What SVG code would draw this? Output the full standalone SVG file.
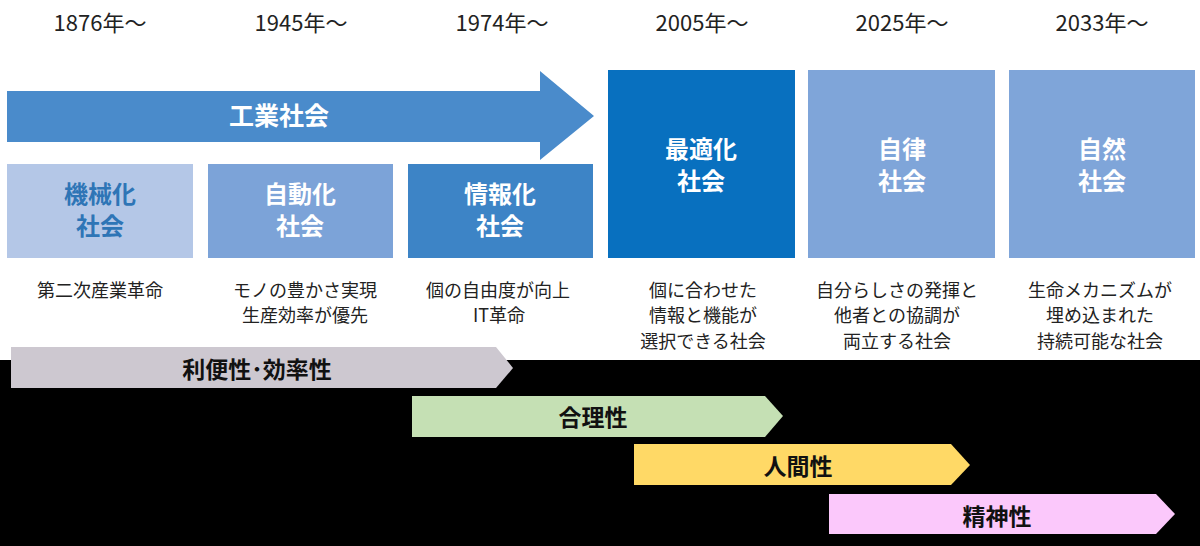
<svg xmlns="http://www.w3.org/2000/svg" width="1200" height="546" viewBox="0 0 1200 546">
<style>
text{font-family:"Noto Sans CJK JP","Noto Sans",sans-serif;text-anchor:middle}
.yr{font-size:22px;fill:#222}
.ttl{font-size:24px;font-weight:bold;fill:#fff}
.dsc{font-size:18px;fill:#222}
.band{font-size:23px;font-weight:bold;fill:#111}
</style>
<rect x="0" y="0" width="1200" height="546" fill="#fff"/>
<rect x="0" y="360" width="1200" height="186" fill="#000"/>
<g id="years">
<text class="yr" x="100" y="31">1876年～</text>
<text class="yr" x="301" y="31">1945年～</text>
<text class="yr" x="502" y="31">1974年～</text>
<text class="yr" x="702" y="31">2005年～</text>
<text class="yr" x="902" y="31">2025年～</text>
<text class="yr" x="1102" y="31">2033年～</text>
</g>
<g id="industrial">
<polygon points="7,91 540,91 540,71 594,116 540,160 540,142 7,142" fill="#4a8bcb"/>
<text class="ttl" x="279" y="125" style="font-size:25px">工業社会</text>
</g>
<g id="box1">
<rect x="7" y="164" width="186" height="94" fill="#b4c7e7"/>
<text class="ttl" x="100" y="203" style="fill:#2e75b6">機械化</text>
<text class="ttl" x="100" y="235" style="fill:#2e75b6">社会</text>
<text class="dsc" x="100" y="297">第二次産業革命</text>
</g>
<g id="box2">
<rect x="208" y="164" width="185" height="94" fill="#7ca3d8"/>
<text class="ttl" x="300" y="203">自動化</text>
<text class="ttl" x="300" y="235">社会</text>
<text class="dsc" x="305" y="297">モノの豊かさ実現</text>
<text class="dsc" x="305" y="322">生産効率が優先</text>
</g>
<g id="box3">
<rect x="408" y="164" width="185" height="94" fill="#3d84c6"/>
<text class="ttl" x="500" y="203">情報化</text>
<text class="ttl" x="500" y="235">社会</text>
<text class="dsc" x="498" y="297">個の自由度が向上</text>
<text class="dsc" x="499" y="322">IT革命</text>
</g>
<g id="box4">
<rect x="608" y="70" width="187" height="188" fill="#0870bf"/>
<text class="ttl" x="701" y="158">最適化</text>
<text class="ttl" x="701" y="190">社会</text>
<text class="dsc" x="703" y="297">個に合わせた</text>
<text class="dsc" x="703" y="322">情報と機能が</text>
<text class="dsc" x="703" y="348">選択できる社会</text>
</g>
<g id="box5">
<rect x="808" y="70" width="187" height="188" fill="#7fa5d9"/>
<text class="ttl" x="902" y="158">自律</text>
<text class="ttl" x="902" y="190">社会</text>
<text class="dsc" x="897" y="297">自分らしさの発揮と</text>
<text class="dsc" x="897" y="322">他者との協調が</text>
<text class="dsc" x="897" y="348">両立する社会</text>
</g>
<g id="box6">
<rect x="1009" y="70" width="186" height="188" fill="#7fa5d9"/>
<text class="ttl" x="1102" y="158">自然</text>
<text class="ttl" x="1102" y="190">社会</text>
<text class="dsc" x="1100" y="297">生命メカニズムが</text>
<text class="dsc" x="1100" y="322">埋め込まれた</text>
<text class="dsc" x="1100" y="348">持続可能な社会</text>
</g>
<g id="band-convenience">
<polygon points="11,347 496,347 513,368 496,388 11,388" fill="#cdc8d0"/>
<text class="band" x="257" y="378">利便性･効率性</text>
</g>
<g id="band-rationality">
<polygon points="412,396 765,396 783,416 765,437 412,437" fill="#c5e0b4"/>
<text class="band" x="593" y="426">合理性</text>
</g>
<g id="band-humanity">
<polygon points="634,444 951,444 970,465 951,485 634,485" fill="#ffd966"/>
<text class="band" x="798" y="475">人間性</text>
</g>
<g id="band-spirituality">
<polygon points="829,494 1156,494 1175,514 1156,534 829,534" fill="#fbc8fb"/>
<text class="band" x="997" y="525">精神性</text>
</g>
<g id="connectors"></g>
</svg>
